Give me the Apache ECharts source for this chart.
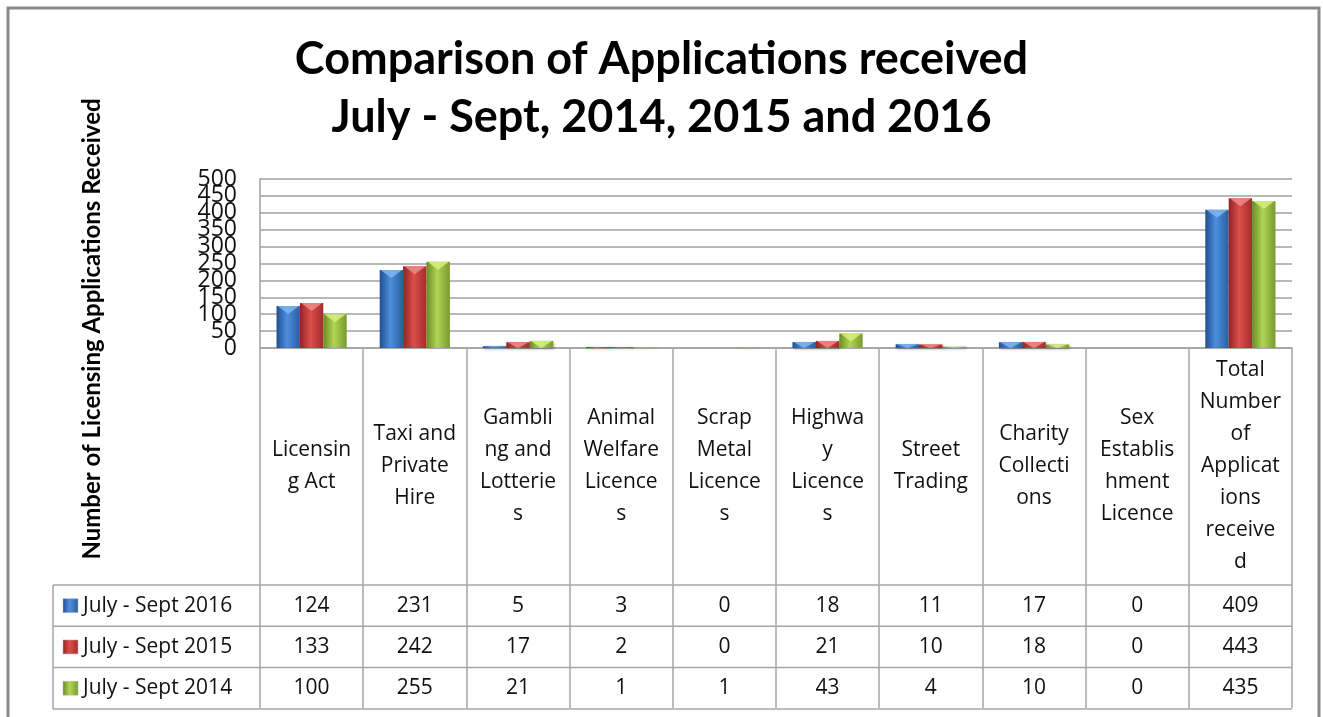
<!DOCTYPE html>
<html>
<head>
<meta charset="utf-8">
<script src="https://cdn.jsdelivr.net/npm/echarts@6/dist/echarts.min.js"></script>
<style>
  html, body { margin: 0; padding: 0; background: #fff; }
  #main { width: 1323px; height: 717px; }
</style>
</head>
<body>
<div id="main"></div>
<script>
// categories as wrapped in the original data table
var categories = [
    'Licensin\ng Act',
    'Taxi and\nPrivate\nHire',
    'Gambli\nng and\nLotterie\ns',
    'Animal\nWelfare\nLicence\ns',
    'Scrap\nMetal\nLicence\ns',
    'Highwa\ny\nLicence\ns',
    'Street\nTrading',
    'Charity\nCollecti\nons',
    'Sex\nEstablis\nhment\nLicence',
    'Total\nNumber\nof\nApplicat\nions\nreceive\nd'
];
var seriesNames = ['July - Sept 2016', 'July - Sept 2015', 'July - Sept 2014'];
var data2016 = [124, 231, 5, 3, 0, 18, 11, 17, 0, 409];
var data2015 = [133, 242, 17, 2, 0, 21, 10, 18, 0, 443];
var data2014 = [100, 255, 21, 1, 1, 43, 4, 10, 0, 435];
var yTicks = [0, 50, 100, 150, 200, 250, 300, 350, 400, 450, 500];

var allData = [data2016, data2015, data2014];
//3d bar look: dark edge, light middle, light cap
var palettes = [
    ['#1f4f8f', '#4d8fdd', '#2a5e9e', '#7fb6f2'],
    ['#8e2523', '#dc4d4a', '#a32d2b', '#f08a87'],
    ['#6a8a25', '#b0d455', '#7a9a2e', '#d6f07a']
];
function grad(p) {
    return new echarts.graphic.LinearGradient(0, 0, 1, 0, [
        { offset: 0, color: p[0] },
        { offset: 0.45, color: p[1] },
        { offset: 1, color: p[2] }
    ]);
}

var font = '"Open Sans", sans-serif';
var titleFont = 'Lato, "Open Sans", sans-serif';
var gridLeft = 260, gridRight = 1292, gridTop = 179, gridBottom = 348;
var rowTop = 585, rowH = 41.3, tableLeft = 53;
var catGap = 0.32;

var dom = document.getElementById('main');
var myChart = echarts.init(dom, null, { renderer: 'canvas' });

var series = [];
for (var s = 0; s < 3; s++) {
    series.push({
        name: seriesNames[s],
        type: 'bar',
        data: allData[s],
        barGap: '0%',
        barCategoryGap: (catGap * 100) + '%',
        itemStyle: {
            color: grad(palettes[s]),
            shadowBlur: 3,
            shadowColor: 'rgba(0,0,0,0.35)',
            shadowOffsetX: 1,
            shadowOffsetY: 1
        }
    });
}
//柱子顶上的浅色三角，模仿excel的立体柱
for (var s = 0; s < 3; s++) {
    (function (k) {
        series.push({
            type: 'custom',
            data: allData[k].map(function (v, i) { return [i, v]; }),
            z: 3,
            renderItem: function (params, api) {
                var v = api.value(1);
                var top = api.coord([api.value(0), v]);
                var base = api.coord([api.value(0), 0]);
                var band = api.size([1, 0])[0];
                var w = band * (1 - catGap) / 3;
                var x0 = top[0] - band * (1 - catGap) / 2 + k * w;
                var h = Math.min(8, base[1] - top[1]);
                if (h < 2) return null;
                return {
                    type: 'polygon',
                    shape: { points: [[x0 + 1, top[1]], [x0 + w - 1, top[1]], [x0 + w / 2, top[1] + h]] },
                    style: { fill: palettes[k][3], opacity: 0.85 }
                };
            }
        });
    })(s);
}

option = {
    animation: false,
    textStyle: { fontFamily: font },
    grid: {
        left: gridLeft,
        right: 1323 - gridRight,
        top: gridTop,
        bottom: 717 - gridBottom
    },
    xAxis: {
        type: 'category',
        data: categories,
        axisLine: { lineStyle: { color: '#a0a0a0', width: 1.5 } },
        //ticks hang down and become the table's column lines
        axisTick: { show: true, length: 708 - gridBottom, lineStyle: { color: '#a6a6a6', width: 1.5 } },
        axisLabel: {
            interval: 0,
            margin: (rowTop - gridBottom) / 2,
            verticalAlign: 'middle',
            fontSize: 21,
            lineHeight: 32,
            color: '#111',
            fontFamily: font
        }
    },
    yAxis: {
        type: 'value',
        min: 0,
        max: 500,
        interval: 50,
        axisLine: { show: true, lineStyle: { color: '#a0a0a0', width: 1.5 } },
        axisTick: { show: false },
        splitLine: { lineStyle: { color: '#a0a0a0', width: 1.5 } },
        //原图的刻度文字挤在一起，echarts会自动隐藏几个，所以自己画
        axisLabel: { show: false }
    },
    series: series
};
myChart.setOption(option, true);

//表格部分，位置从坐标轴算出来
var graphics = [];
//outer frame
graphics.push({
    type: 'rect', shape: { x: 8, y: 8, width: 1311, height: 760 },
    style: { fill: null, stroke: '#8a8a8a', lineWidth: 3 }, z: 0
});
graphics.push({
    type: 'text', left: 'center', top: 30,
    style: {
        text: 'Comparison of Applications received\nJuly - Sept, 2014, 2015 and 2016',
        font: 'bold 45px ' + titleFont, fill: '#000', textAlign: 'center', lineHeight: 58
    }
});
graphics.push({
    type: 'text', x: 92, y: 329, rotation: Math.PI / 2,
    style: {
        text: 'Number of Licensing Applications Received',
        font: 'bold 24px ' + titleFont, fill: '#000', textAlign: 'center', textVerticalAlign: 'middle'
    }
});
//y轴刻度文字
yTicks.forEach(function (t) {
    var py = myChart.convertToPixel({ yAxisIndex: 0 }, t);
    graphics.push({
        type: 'text', x: 237, y: py,
        style: { text: String(t), font: '23px ' + font, fill: '#111', textAlign: 'right', textVerticalAlign: 'middle' }
    });
});
//horizontal lines of the data rows
for (var r = 0; r <= 3; r++) {
    var yy = rowTop + r * rowH;
    graphics.push({
        type: 'line', shape: { x1: tableLeft, y1: yy, x2: gridRight, y2: yy },
        style: { stroke: '#a6a6a6', lineWidth: 1.5 }
    });
}
graphics.push({
    type: 'line', shape: { x1: tableLeft, y1: rowTop, x2: tableLeft, y2: rowTop + 3 * rowH },
    style: { stroke: '#a6a6a6', lineWidth: 1.5 }
});
for (var s = 0; s < 3; s++) {
    var cy = rowTop + (s + 0.5) * rowH;
    graphics.push({
        type: 'rect', shape: { x: 63, y: cy - 7, width: 15, height: 14 },
        style: { fill: grad(palettes[s]), stroke: '#bbb', lineWidth: 0.5 }
    });
    graphics.push({
        type: 'text', x: 83, y: cy,
        style: { text: seriesNames[s], font: '21px ' + font, fill: '#111', textVerticalAlign: 'middle' }
    });
    for (var i = 0; i < categories.length; i++) {
        var px = myChart.convertToPixel({ xAxisIndex: 0 }, i);
        graphics.push({
            type: 'text', x: px, y: cy,
            style: { text: String(allData[s][i]), font: '21px ' + font, fill: '#111', textAlign: 'center', textVerticalAlign: 'middle' }
        });
    }
}
myChart.setOption({ graphic: graphics });
</script>
</body>
</html>
